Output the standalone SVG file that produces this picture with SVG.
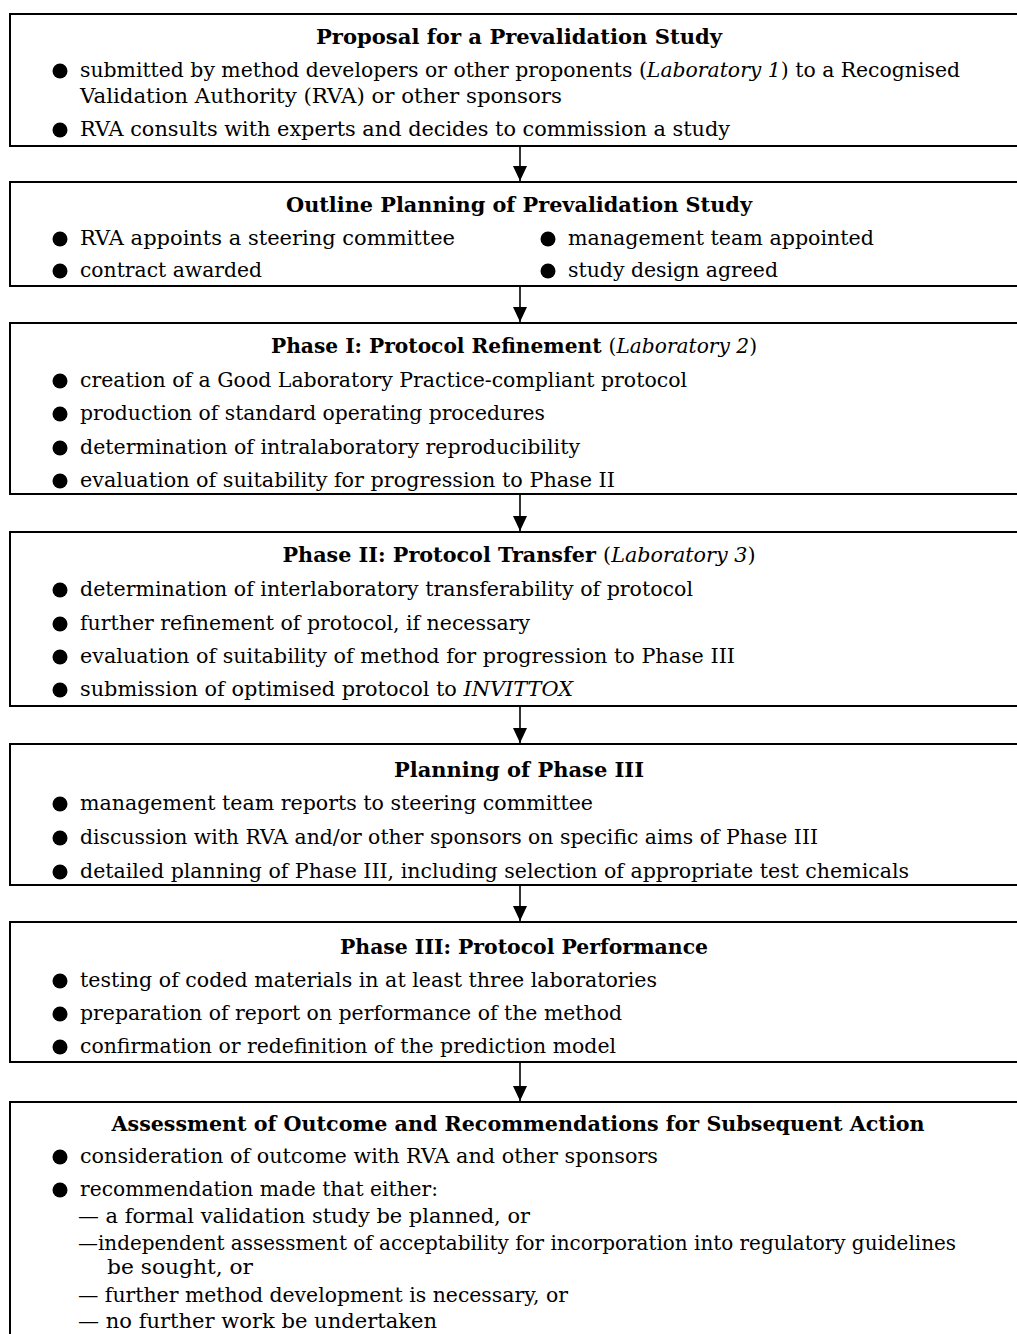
<svg xmlns="http://www.w3.org/2000/svg" width="1017" height="1334" viewBox="0 0 1017 1334">
<style>
text{font-family:"DejaVu Serif","Liberation Serif",serif;font-size:20.5px;fill:#000}
.t{font-weight:bold;text-anchor:middle}
.n{font-weight:normal}
.i{font-style:italic;font-weight:normal}
.box{fill:#fff;stroke:#000;stroke-width:2}
.b{fill:#000}
.c{stroke:#000;stroke-width:1.6;fill:none}
</style>
<rect width="1017" height="1334" fill="#fff"/>
<g id="connectors">
<line class="c" x1="520" y1="147" x2="520" y2="181"/><path d="M513,166 L527,166 L520,181 Z" class="b"/>
<line class="c" x1="520" y1="287" x2="520" y2="322"/><path d="M513,307 L527,307 L520,322 Z" class="b"/>
<line class="c" x1="520" y1="495" x2="520" y2="531"/><path d="M513,516 L527,516 L520,531 Z" class="b"/>
<line class="c" x1="520" y1="707" x2="520" y2="743"/><path d="M513,728 L527,728 L520,743 Z" class="b"/>
<line class="c" x1="520" y1="886" x2="520" y2="921"/><path d="M513,906 L527,906 L520,921 Z" class="b"/>
<line class="c" x1="520" y1="1063" x2="520" y2="1101"/><path d="M513,1086 L527,1086 L520,1101 Z" class="b"/>
</g>
<g id="n1">
<rect class="box" x="10" y="14" width="1020" height="132"/>
<text class="t" x="519" y="44" textLength="406" lengthAdjust="spacingAndGlyphs">Proposal for a Prevalidation Study</text>
<circle class="b" cx="60" cy="71" r="7.5"/>
<text x="80" y="77" textLength="880" lengthAdjust="spacingAndGlyphs">submitted by method developers or other proponents (<tspan class="i">Laboratory 1</tspan>) to a Recognised</text>
<text x="80" y="103" textLength="482" lengthAdjust="spacingAndGlyphs">Validation Authority (RVA) or other sponsors</text>
<circle class="b" cx="60" cy="130" r="7.5"/>
<text x="80" y="136" textLength="650" lengthAdjust="spacingAndGlyphs">RVA consults with experts and decides to commission a study</text>
</g>
<g id="n2">
<rect class="box" x="10" y="182" width="1020" height="104"/>
<text class="t" x="519" y="212" textLength="466" lengthAdjust="spacingAndGlyphs">Outline Planning of Prevalidation Study</text>
<circle class="b" cx="60" cy="239" r="7.5"/>
<text x="80" y="245" textLength="375" lengthAdjust="spacingAndGlyphs">RVA appoints a steering committee</text>
<circle class="b" cx="60" cy="271" r="7.5"/>
<text x="80" y="277" textLength="182" lengthAdjust="spacingAndGlyphs">contract awarded</text>
<circle class="b" cx="548" cy="239" r="7.5"/>
<text x="568" y="245" textLength="306" lengthAdjust="spacingAndGlyphs">management team appointed</text>
<circle class="b" cx="548" cy="271" r="7.5"/>
<text x="568" y="277" textLength="210" lengthAdjust="spacingAndGlyphs">study design agreed</text>
</g>
<g id="n3">
<rect class="box" x="10" y="323" width="1020" height="171"/>
<text class="t" x="514" y="353" textLength="486" lengthAdjust="spacingAndGlyphs">Phase I: Protocol Refinement <tspan class="n">(</tspan><tspan class="i">Laboratory 2</tspan><tspan class="n">)</tspan></text>
<circle class="b" cx="60" cy="381" r="7.5"/>
<text x="80" y="387" textLength="607" lengthAdjust="spacingAndGlyphs">creation of a Good Laboratory Practice-compliant protocol</text>
<circle class="b" cx="60" cy="414" r="7.5"/>
<text x="80" y="420" textLength="465" lengthAdjust="spacingAndGlyphs">production of standard operating procedures</text>
<circle class="b" cx="60" cy="448" r="7.5"/>
<text x="80" y="454" textLength="500" lengthAdjust="spacingAndGlyphs">determination of intralaboratory reproducibility</text>
<circle class="b" cx="60" cy="481" r="7.5"/>
<text x="80" y="487" textLength="535" lengthAdjust="spacingAndGlyphs">evaluation of suitability for progression to Phase II</text>
</g>
<g id="n4">
<rect class="box" x="10" y="532" width="1020" height="174"/>
<text class="t" x="519" y="562" textLength="473" lengthAdjust="spacingAndGlyphs">Phase II: Protocol Transfer <tspan class="n">(</tspan><tspan class="i">Laboratory 3</tspan><tspan class="n">)</tspan></text>
<circle class="b" cx="60" cy="590" r="7.5"/>
<text x="80" y="596" textLength="613" lengthAdjust="spacingAndGlyphs">determination of interlaboratory transferability of protocol</text>
<circle class="b" cx="60" cy="624" r="7.5"/>
<text x="80" y="630" textLength="450" lengthAdjust="spacingAndGlyphs">further refinement of protocol, if necessary</text>
<circle class="b" cx="60" cy="657" r="7.5"/>
<text x="80" y="663" textLength="655" lengthAdjust="spacingAndGlyphs">evaluation of suitability of method for progression to Phase III</text>
<circle class="b" cx="60" cy="690" r="7.5"/>
<text x="80" y="696" textLength="493" lengthAdjust="spacingAndGlyphs">submission of optimised protocol to <tspan class="i">INVITTOX</tspan></text>
</g>
<g id="n5">
<rect class="box" x="10" y="744" width="1020" height="141"/>
<text class="t" x="519" y="777" textLength="250" lengthAdjust="spacingAndGlyphs">Planning of Phase III</text>
<circle class="b" cx="60" cy="804" r="7.5"/>
<text x="80" y="810" textLength="513" lengthAdjust="spacingAndGlyphs">management team reports to steering committee</text>
<circle class="b" cx="60" cy="838" r="7.5"/>
<text x="80" y="844" textLength="738" lengthAdjust="spacingAndGlyphs">discussion with RVA and/or other sponsors on specific aims of Phase III</text>
<circle class="b" cx="60" cy="872" r="7.5"/>
<text x="80" y="878" textLength="829" lengthAdjust="spacingAndGlyphs">detailed planning of Phase III, including selection of appropriate test chemicals</text>
</g>
<g id="n6">
<rect class="box" x="10" y="922" width="1020" height="140"/>
<text class="t" x="524" y="954" textLength="368" lengthAdjust="spacingAndGlyphs">Phase III: Protocol Performance</text>
<circle class="b" cx="60" cy="981" r="7.5"/>
<text x="80" y="987" textLength="577" lengthAdjust="spacingAndGlyphs">testing of coded materials in at least three laboratories</text>
<circle class="b" cx="60" cy="1014" r="7.5"/>
<text x="80" y="1020" textLength="542" lengthAdjust="spacingAndGlyphs">preparation of report on performance of the method</text>
<circle class="b" cx="60" cy="1047" r="7.5"/>
<text x="80" y="1053" textLength="536" lengthAdjust="spacingAndGlyphs">confirmation or redefinition of the prediction model</text>
</g>
<g id="n7">
<rect class="box" x="10" y="1102" width="1020" height="260"/>
<text class="t" x="518" y="1131" textLength="813" lengthAdjust="spacingAndGlyphs">Assessment of Outcome and Recommendations for Subsequent Action</text>
<circle class="b" cx="60" cy="1157" r="7.5"/>
<text x="80" y="1163" textLength="578" lengthAdjust="spacingAndGlyphs">consideration of outcome with RVA and other sponsors</text>
<circle class="b" cx="60" cy="1190" r="7.5"/>
<text x="80" y="1196" textLength="358" lengthAdjust="spacingAndGlyphs">recommendation made that either:</text>
<text x="78" y="1223" textLength="452" lengthAdjust="spacingAndGlyphs">— a formal validation study be planned, or</text>
<text x="78" y="1250" textLength="878" lengthAdjust="spacingAndGlyphs">—independent assessment of acceptability for incorporation into regulatory guidelines</text>
<text x="107" y="1274" textLength="146" lengthAdjust="spacingAndGlyphs">be sought, or</text>
<text x="78" y="1302" textLength="490" lengthAdjust="spacingAndGlyphs">— further method development is necessary, or</text>
<text x="78" y="1328" textLength="359" lengthAdjust="spacingAndGlyphs">— no further work be undertaken</text>
</g>
</svg>
